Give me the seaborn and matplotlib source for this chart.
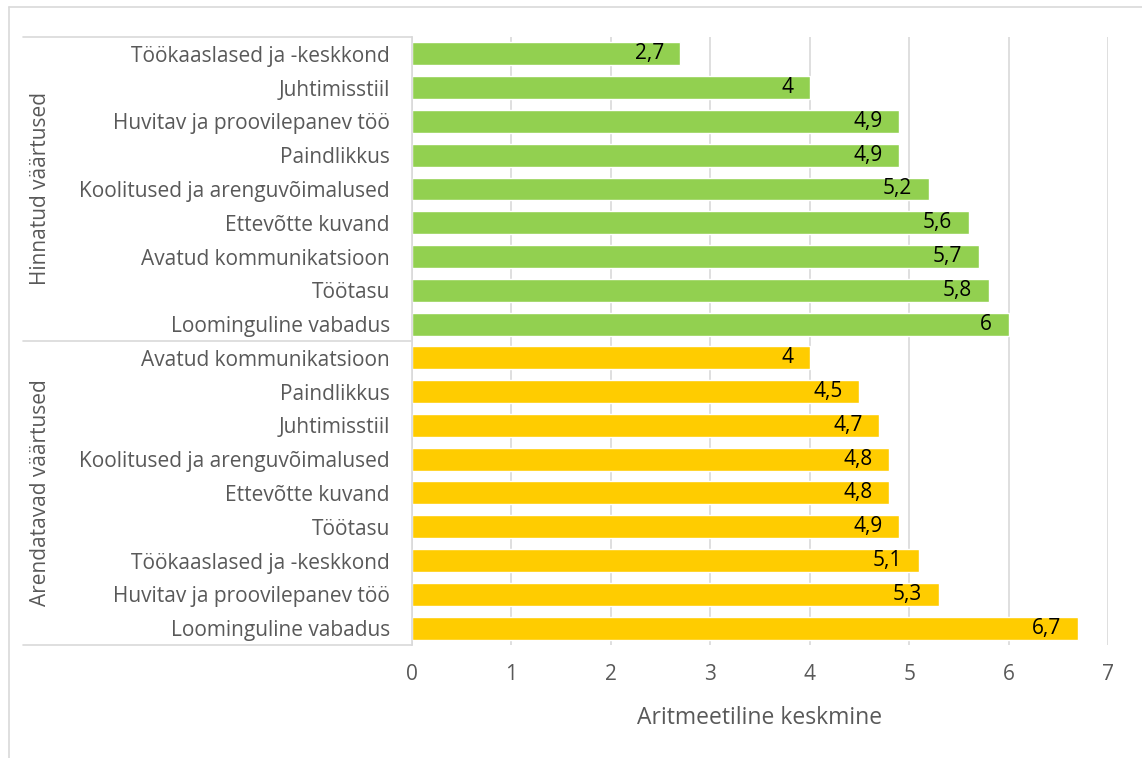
import pandas as pd
import matplotlib.pyplot as plt
import matplotlib.transforms as mtransforms
from matplotlib.lines import Line2D
import seaborn as sns

# === data ===
groups = ["Hinnatud väärtused", "Arendatavad väärtused"]
hinnatud_names = ["Töökaaslased ja -keskkond", "Juhtimisstiil", "Huvitav ja proovilepanev töö",
                  "Paindlikkus", "Koolitused ja arenguvõimalused", "Ettevõtte kuvand",
                  "Avatud kommunikatsioon", "Töötasu", "Loominguline vabadus"]
hinnatud_values = [2.7, 4.0, 4.9, 4.9, 5.2, 5.6, 5.7, 5.8, 6.0]
arendatavad_names = ["Avatud kommunikatsioon", "Paindlikkus", "Juhtimisstiil",
                     "Koolitused ja arenguvõimalused", "Ettevõtte kuvand", "Töötasu",
                     "Töökaaslased ja -keskkond", "Huvitav ja proovilepanev töö", "Loominguline vabadus"]
arendatavad_values = [4.0, 4.5, 4.7, 4.8, 4.8, 4.9, 5.1, 5.3, 6.7]
colors = {"Hinnatud väärtused": "#92D050", "Arendatavad väärtused": "#FFCC00"}

df = pd.DataFrame({
    "group": [groups[0]] * len(hinnatud_names) + [groups[1]] * len(arendatavad_names),
    "name": hinnatud_names + arendatavad_names,
    "value": hinnatud_values + arendatavad_values,
})
df["row"] = df["group"] + "|" + df["name"]

sns.set_style("white")
plt.rcParams['font.family'] = ['Open Sans', 'DejaVu Sans']

fig = plt.figure(figsize=(11.42, 7.58), dpi=100)
ax = fig.add_axes([0.3608, 0.1491, 0.6094, 0.8021])

sns.barplot(data=df, x="value", y="row", hue="group", palette=colors, dodge=False,
            width=0.68, legend=False, saturation=1, ax=ax)

ax.set_xlim(0, 7)
ax.set_ylim(len(df) - 0.5, -0.5)
ax.set_xticks(range(0, 8))
ax.set_yticks(range(len(df)))
ax.set_yticklabels(df["name"])
ax.tick_params(axis="both", length=0, labelcolor="#595959", labelsize=15)
ax.tick_params(axis="y", pad=16)
ax.tick_params(axis="x", pad=14)
ax.set_ylabel("")
ax.set_xlabel("Aritmeetiline keskmine", fontsize=16.5, color="#595959", labelpad=15)
ax.grid(axis="x", color="#D9D9D9", linewidth=1.2)
ax.set_axisbelow(True)
for s in ["top", "right", "bottom"]:
    ax.spines[s].set_visible(False)
ax.spines["left"].set_color("#D9D9D9")
ax.spines["left"].set_linewidth(1.2)

# value labels inside bar ends
for cont in ax.containers:
    labels = [f"{v:g}".replace(".", ",") for v in cont.datavalues]
    texts = ax.bar_label(cont, labels=labels, padding=-12, fontsize=15, color="#000000")
    for t in texts:
        t.set_ha("right")

# group separators and labels
trans = mtransforms.blended_transform_factory(ax.transAxes, ax.transData)
n1 = len(hinnatud_names)
for yb in [-0.5, n1 - 0.5, len(df) - 0.5]:
    ax.add_line(Line2D([-0.559, 0], [yb, yb], transform=trans, color="#D9D9D9",
                       linewidth=1.2, clip_on=False))
ax.text(-0.534, (n1 - 1) / 2, groups[0], transform=trans, rotation=90, ha="center",
        va="center", fontsize=15, color="#595959")
ax.text(-0.534, n1 + (len(arendatavad_names) - 1) / 2, groups[1], transform=trans,
        rotation=90, ha="center", va="center", fontsize=15, color="#595959")

# outer chart frame
fig.add_artist(Line2D([9 / 1142, 9 / 1142], [0, 1 - 7 / 758], transform=fig.transFigure,
                      color="#D9D9D9", linewidth=1.2))
fig.add_artist(Line2D([9 / 1142, 1], [1 - 7 / 758, 1 - 7 / 758], transform=fig.transFigure,
                      color="#D9D9D9", linewidth=1.2))

fig.savefig("out.png", dpi=100)
